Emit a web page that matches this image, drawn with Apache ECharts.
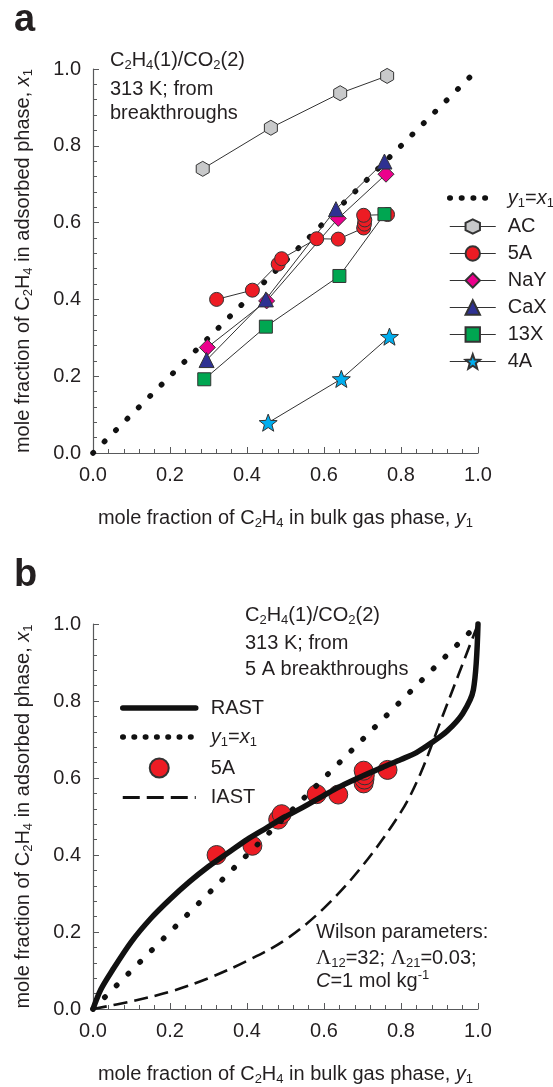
<!DOCTYPE html>
<html>
<head>
<meta charset="utf-8">
<script src="https://cdn.jsdelivr.net/npm/echarts@6/dist/echarts.min.js"></script>
<style>
html, body { margin: 0; padding: 0; background: #ffffff; }
#chart { width: 553px; height: 1087px; }
</style>
</head>
<body>
<div id="chart"></div>
<script>
// ---- data: [y1 (bulk gas), x1 (adsorbed phase)] ----
const diagonal = [[0, 0], [0.985, 0.985]];

// panel a: breakthrough results for each adsorbent
const adsAC  = [[0.285, 0.740], [0.462, 0.847], [0.642, 0.937], [0.764, 0.982]];
const ads5A  = [[0.321, 0.400], [0.414, 0.424], [0.481, 0.492], [0.490, 0.506], [0.581, 0.558],
                [0.637, 0.557], [0.703, 0.586], [0.705, 0.596], [0.706, 0.607], [0.703, 0.619],
                [0.765, 0.621]];
const adsNaY = [[0.297, 0.275], [0.451, 0.396], [0.637, 0.611], [0.761, 0.726]];
const adsCaX = [[0.295, 0.242], [0.449, 0.400], [0.631, 0.635], [0.757, 0.759]];
const ads13X = [[0.289, 0.192], [0.449, 0.329], [0.640, 0.461], [0.757, 0.622]];
const ads4A  = [[0.455, 0.079], [0.645, 0.193], [0.770, 0.303]];

// panel b: model curves for 5A
const rastCurve = [[0, 0], [0.02, 0.05], [0.05, 0.10], [0.10, 0.175], [0.15, 0.235], [0.20, 0.285],
                   [0.25, 0.330], [0.30, 0.370], [0.35, 0.405], [0.40, 0.440], [0.45, 0.470],
                   [0.50, 0.500], [0.54, 0.521], [0.60, 0.555], [0.64, 0.577], [0.70, 0.605],
                   [0.755, 0.629], [0.80, 0.648], [0.84, 0.666], [0.88, 0.692], [0.92, 0.722],
                   [0.96, 0.767], [0.988, 0.829], [1.0, 1.0]];
const iastCurve = [[0, 0], [0.10, 0.020], [0.20, 0.045], [0.30, 0.080], [0.40, 0.125], [0.50, 0.180],
                   [0.60, 0.262], [0.70, 0.372], [0.80, 0.512], [0.85, 0.610], [0.90, 0.740],
                   [0.95, 0.870], [1.0, 1.0]];

const tickLabels = ['0.0', '0.2', '0.4', '0.6', '0.8', '1.0'];

// ---- styling ----
const FONT = "'Liberation Sans', Arial, Helvetica, sans-serif";
const INK = '#231f20';
const AXIS = '#58595b';
const EDGE = '#333333';
const NOFILL = 'rgba(0,0,0,0)';

const RICH = {
  s:   { fontSize: 13, fontFamily: FONT, color: INK, padding: [10, 0, 0, 0] },
  sup: { fontSize: 13, fontFamily: FONT, color: INK, padding: [0, 0, 12, 0] },
  i:   { fontSize: 20, fontFamily: FONT, color: INK, fontStyle: 'italic' },
  L:   { fontSize: 21, fontFamily: "'Liberation Serif', 'DejaVu Serif', serif", color: INK }
};

const HEXAGON = 'path://M0,-1L0.866,-0.5L0.866,0.5L0,1L-0.866,0.5L-0.866,-0.5Z';
const STAR = 'path://M0,-1L0.247,-0.34L0.951,-0.309L0.399,0.13L0.588,0.809L0,0.42L-0.588,0.809L-0.399,0.13L-0.951,-0.309L-0.247,-0.34Z';

const legendText = {
  'a-diag-key': '{i|y}{s|1}={i|x}{s|1}',
  'b-diag-key': '{i|y}{s|1}={i|x}{s|1}',
  'b-5A': '5A',
  'IAST-key': 'IAST'
};

function xAxisFor(gridIndex) {
  return {
    gridIndex, type: 'value', min: 0, max: 1, interval: 0.2,
    axisLine: { show: true, lineStyle: { color: AXIS, width: 1.2 } },
    axisTick: { show: true, inside: true, length: 6, lineStyle: { color: AXIS } },
    minorTick: { show: true, splitNumber: 5, length: 4, lineStyle: { color: AXIS } },
    splitLine: { show: false },
    axisLabel: { color: INK, fontSize: 20, fontFamily: FONT, margin: 12,
                 formatter: v => tickLabels[Math.round(v * 5)] },
    name: 'mole fraction of C{s|2}H{s|4} in bulk gas phase, {i|y}{s|1}',
    nameLocation: 'middle', nameGap: 54,
    nameTextStyle: { color: INK, fontSize: 20, fontFamily: FONT, rich: RICH }
  };
}
function yAxisFor(gridIndex) {
  return {
    gridIndex, type: 'value', min: 0, max: 1, interval: 0.2,
    axisLine: { show: true, lineStyle: { color: AXIS, width: 1.2 } },
    axisTick: { show: true, inside: true, length: 6, lineStyle: { color: AXIS } },
    minorTick: { show: true, splitNumber: 5, length: 4, lineStyle: { color: AXIS } },
    splitLine: { show: false },
    axisLabel: { color: INK, fontSize: 20, fontFamily: FONT, margin: 12,
                 formatter: v => tickLabels[Math.round(v * 5)] },
    name: 'mole fraction of C{s|2}H{s|4} in adsorbed phase, {i|x}{s|1}',
    nameLocation: 'middle', nameGap: 58,
    nameTextStyle: { color: INK, fontSize: 20, fontFamily: FONT, rich: RICH }
  };
}

function adsorbent(name, data, symbol, size, color) {
  return {
    name, type: 'line', xAxisIndex: 0, yAxisIndex: 0, data,
    symbol, symbolSize: size, symbolKeepAspect: true, showAllSymbol: true, clip: false,
    lineStyle: { color: EDGE, width: 1 },
    itemStyle: { color, borderColor: EDGE, borderWidth: 1 }
  };
}

// legend-only keys: same stroke as the plotted curve but with the shorter key pattern
function legendKey(name, gridIndex, width, dash, cap) {
  return {
    name, type: 'line', xAxisIndex: gridIndex, yAxisIndex: gridIndex, data: [],
    symbol: 'none', itemStyle: { color: NOFILL },
    lineStyle: { color: '#111111', width, type: dash, cap }
  };
}

const option = {
  animation: false,
  backgroundColor: '#ffffff',
  textStyle: { fontFamily: FONT },
  grid: [
    { left: 93, top: 69, width: 385, height: 384 },
    { left: 93, top: 624, width: 385, height: 385 }
  ],
  xAxis: [xAxisFor(0), xAxisFor(1)],
  yAxis: [yAxisFor(0), yAxisFor(1)],
  legend: [
    {
      orient: 'vertical', left: 447, top: 188, padding: 0,
      itemWidth: 46, itemHeight: 18, itemGap: 7,
      selectedMode: false,
      lineStyle: { width: 'inherit' },
      data: ['a-diag-key', 'AC', '5A', 'NaY', 'CaX', '13X', '4A'],
      formatter: n => legendText[n] || n,
      textStyle: { color: INK, fontSize: 20, fontFamily: FONT, lineHeight: 20,
                   padding: [0, 0, 0, 7], rich: RICH }
    },
    {
      orient: 'vertical', left: 120, top: 698, padding: 0,
      itemWidth: 73, itemHeight: 19, itemGap: 9,
      selectedMode: false,
      lineStyle: { width: 'inherit' },
      data: ['RAST', 'b-diag-key', 'b-5A', 'IAST-key'],
      formatter: n => legendText[n] || n,
      textStyle: { color: INK, fontSize: 20, fontFamily: FONT, lineHeight: 20,
                   padding: [0, 0, 0, 10], rich: RICH }
    }
  ],
  graphic: [
    { type: 'text', left: 14, top: 2, style: { text: 'a', fill: INK, font: "bold 38px 'Liberation Sans', Arial, sans-serif" } },
    { type: 'text', left: 14, top: 557, style: { text: 'b', fill: INK, font: "bold 38px 'Liberation Sans', Arial, sans-serif" } },
    { type: 'text', style: { x: 110, y: 60, text: 'C{s|2}H{s|4}(1)/CO{s|2}(2)', fill: INK, fontSize: 20, fontFamily: FONT, verticalAlign: 'middle', rich: RICH } },
    { type: 'text', style: { x: 110, y: 89, text: '313 K; from', fill: INK, fontSize: 20, fontFamily: FONT, verticalAlign: 'middle' } },
    { type: 'text', style: { x: 110, y: 113, text: 'breakthroughs', fill: INK, fontSize: 20, fontFamily: FONT, verticalAlign: 'middle' } },
    { type: 'text', style: { x: 245, y: 615, text: 'C{s|2}H{s|4}(1)/CO{s|2}(2)', fill: INK, fontSize: 20, fontFamily: FONT, verticalAlign: 'middle', rich: RICH } },
    { type: 'text', style: { x: 245, y: 643, text: '313 K; from', fill: INK, fontSize: 20, fontFamily: FONT, verticalAlign: 'middle' } },
    { type: 'text', style: { x: 245, y: 669, text: '5 A breakthroughs', fill: INK, fontSize: 20, fontFamily: FONT, verticalAlign: 'middle' } },
    { type: 'text', style: { x: 316, y: 932, text: 'Wilson parameters:', fill: INK, fontSize: 20, fontFamily: FONT, verticalAlign: 'middle' } },
    { type: 'text', style: { x: 316, y: 958, text: '{L|\u039b}{s|12}=32; {L|\u039b}{s|21}=0.03;', fill: INK, fontSize: 20, fontFamily: FONT, verticalAlign: 'middle', rich: RICH } },
    { type: 'text', style: { x: 316, y: 981, text: '{i|C}=1 mol kg{sup|-1}', fill: INK, fontSize: 20, fontFamily: FONT, verticalAlign: 'middle', rich: RICH } }
  ],
  series: [
    // panel a
    {
      name: 'a-diag', type: 'line', xAxisIndex: 0, yAxisIndex: 0, data: diagonal,
      symbol: 'none', clip: false, itemStyle: { color: NOFILL },
      lineStyle: { color: '#111111', width: 5.5, type: [0.5, 15.6], cap: 'round' }
    },
    legendKey('a-diag-key', 0, 5.5, [0.5, 11.2], 'round'),
    adsorbent('AC', adsAC, HEXAGON, 15, '#c8c9ca'),
    adsorbent('5A', ads5A, 'circle', 14, '#ed1c24'),
    adsorbent('NaY', adsNaY, 'diamond', 16, '#ec008c'),
    adsorbent('CaX', adsCaX, 'triangle', 15, '#2e3192'),
    adsorbent('13X', ads13X, 'rect', 13, '#00a651'),
    adsorbent('4A', ads4A, STAR, 18, '#00aeef'),
    // panel b
    {
      name: 'b-diag', type: 'line', xAxisIndex: 1, yAxisIndex: 1, data: diagonal,
      symbol: 'none', clip: false, itemStyle: { color: NOFILL },
      lineStyle: { color: '#111111', width: 5.5, type: [0.5, 16.1], cap: 'round' }
    },
    legendKey('b-diag-key', 1, 5.5, [0.5, 10.8], 'round'),
    legendKey('IAST-key', 1, 3, [17, 7], 'butt'),
    {
      name: 'IAST', type: 'line', xAxisIndex: 1, yAxisIndex: 1, data: iastCurve,
      symbol: 'none', smooth: 0.35, clip: false, itemStyle: { color: NOFILL },
      lineStyle: { color: '#111111', width: 2.6, type: [14, 7] }
    },
    {
      name: 'RAST', type: 'line', xAxisIndex: 1, yAxisIndex: 1, data: rastCurve,
      symbol: 'none', smooth: 0.3, clip: false, itemStyle: { color: NOFILL },
      lineStyle: { color: '#111111', width: 5.5, cap: 'round', join: 'round' }
    },
    {
      name: 'b-5A', type: 'scatter', xAxisIndex: 1, yAxisIndex: 1, data: ads5A,
      symbol: 'circle', symbolSize: 19, clip: false,
      itemStyle: { color: '#ed1c24', borderColor: EDGE, borderWidth: 1, opacity: 1 }
    }
  ]
};

const chart = echarts.init(document.getElementById('chart'), null, { renderer: 'canvas' });
chart.setOption(option);
</script>
</body>
</html>
